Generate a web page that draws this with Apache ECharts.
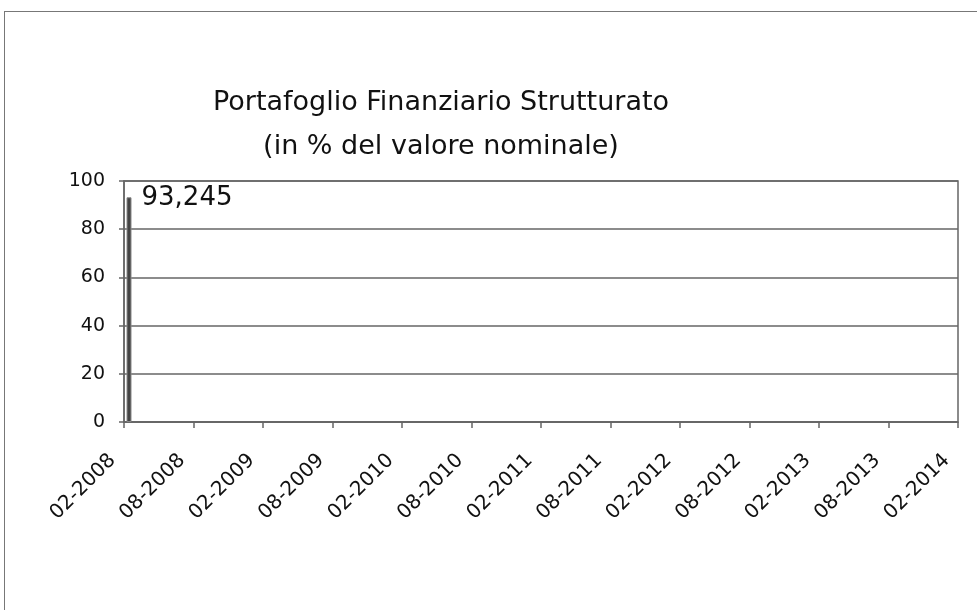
<!DOCTYPE html>
<html>
<head>
<meta charset="utf-8">
<title>Portafoglio Finanziario Strutturato</title>
<script src="https://cdn.jsdelivr.net/npm/echarts@6/dist/echarts.min.js"></script>
<style>
  html, body { margin: 0; padding: 0; background: #fff; overflow: hidden; }
  .frame {
    position: absolute; left: 4px; top: 11px;
    width: 1200px; height: 800px;
    border: 1px solid #777;
  }
  #chart { position: absolute; left: 0; top: 0; width: 977px; height: 610px; }
</style>
</head>
<body>
<div class="frame"></div>
<div id="chart"></div>
<script>
// date labels on the x axis (every 6 months)
const months = [
  '02-2008', '08-2008', '02-2009', '08-2009', '02-2010', '08-2010', '02-2011',
  '08-2011', '02-2012', '08-2012', '02-2013', '08-2013', '02-2014'
]
// only the first point has a value
const values = [93.245, '-', '-', '-', '-', '-', '-', '-', '-', '-', '-', '-', '-']
const emptySlot = months.map(() => '-')

const font = 'DejaVu Sans'
const lineColor = '#666'

const chart = echarts.init(document.getElementById('chart'))

const option = {
  animation: false,
  title: {
    text: 'Portafoglio Finanziario Strutturato\n(in % del valore nominale)',
    left: 436,
    top: 76,
    textAlign: 'center',
    textStyle: {
      fontFamily: font,
      fontSize: 27,
      fontWeight: 'normal',
      color: '#111',
      lineHeight: 44
    }
  },
  grid: {
    left: 124,
    top: 181,
    right: 977 - 958,
    bottom: 610 - 422,
    show: true,
    borderColor: lineColor,
    borderWidth: 1.5
  },
  xAxis: {
    type: 'category',
    data: months,
    boundaryGap: false,
    axisLine: { lineStyle: { color: lineColor, width: 1.5 } },
    axisTick: { show: true, length: 6, lineStyle: { color: lineColor, width: 1.5 } },
    axisLabel: {
      rotate: 45,
      margin: 24,
      padding: [0, 16, 0, 0],
      interval: 0,
      fontFamily: font,
      fontSize: 20,
      color: '#111'
    },
    splitLine: { show: false }
  },
  yAxis: {
    type: 'value',
    min: 0,
    max: 100,
    interval: 20,
    axisLine: { show: true, lineStyle: { color: lineColor, width: 1.5 } },
    axisTick: { show: true, length: 5, lineStyle: { color: lineColor, width: 1.5 } },
    axisLabel: {
      margin: 19,
      fontFamily: font,
      fontSize: 19,
      color: '#111'
    },
    splitLine: { show: true, lineStyle: { color: lineColor, width: 1.5 } }
  },
  series: [
    {
      // empty slot so the real bar sits just right of the axis
      type: 'bar',
      data: emptySlot,
      barWidth: 5,
      barGap: '100%',
      silent: true
    },
    {
      type: 'bar',
      data: values,
      barWidth: 5,
      itemStyle: {
        color: '#444',
        borderColor: '#888',
        borderWidth: 1
      },
      label: {
        show: true,
        position: ['100%', 0],
        offset: [10, 1],
        align: 'left',
        verticalAlign: 'middle',
        fontFamily: font,
        fontSize: 26,
        color: '#111',
        formatter: (p) => String(p.value).replace('.', ',')
      }
    }
  ]
}

chart.setOption(option)
</script>
</body>
</html>
